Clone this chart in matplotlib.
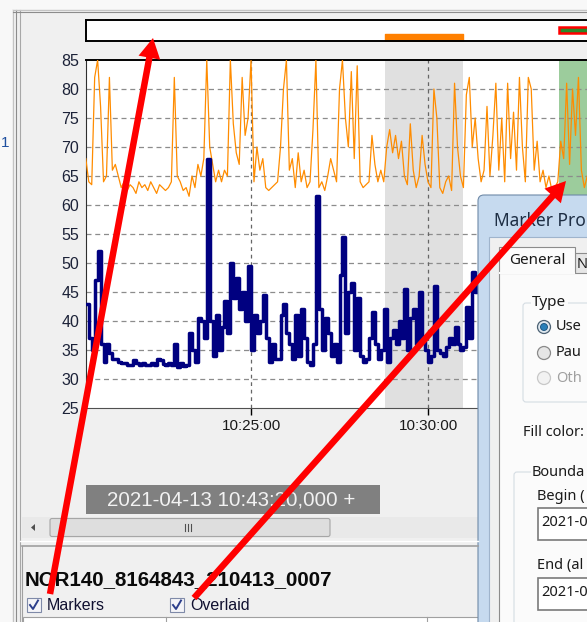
import numpy as np
import matplotlib
matplotlib.use("Agg")
import matplotlib.pyplot as plt
from matplotlib.patches import Rectangle, FancyBboxPatch, Circle, FancyArrow, Polygon

plt.rcParams['font.family'] = ['Liberation Sans', 'DejaVu Sans']

# time axis = seconds after 10:20:00, one sample every 5 s
t_start = 20
t_step = 5

orange_vals = [
    68, 64, 63.5, 82, 85, 77, 64, 65, 82, 66,
    67, 65, 63, 64, 62.5, 63.5, 63, 62, 64, 63,
    63.5, 62.5, 64, 63, 62, 63.5, 63, 62.5, 63, 64,
    82, 65, 64, 62.5, 63, 61.5, 65, 63, 67, 65,
    68, 85, 70, 67, 64, 66, 64, 66, 65, 85,
    74, 69, 67, 82, 72, 75, 85, 64, 70, 66,
    68, 63, 62.5, 63, 63.5, 64, 70, 80, 85, 66,
    68, 63, 69, 64, 66, 63, 64, 73, 85, 63,
    64, 62.5, 65, 68, 66, 64, 80, 85, 75, 70,
    83, 68, 84, 64, 63, 63.5, 64, 72, 67, 64,
    66, 64, 70, 73, 69, 72, 68, 71, 65, 63.5,
    74, 66, 63, 65, 72, 67, 64, 63, 80, 75,
    63, 62, 64, 65, 62.5, 81, 70, 65, 63, 79,
    82, 70, 75, 68, 64, 66, 77, 65, 72, 81,
    66, 75, 64, 81, 68, 76, 66, 82, 70, 64,
    82, 80, 66, 71, 64, 66, 63, 65, 62.5, 63,
    64, 71, 68, 81, 67, 80, 72, 82, 66, 63, 65,
]

blue_vals = [
    43, 37, 35, 47, 52, 36, 33, 36, 34.5, 33.5,
    33.5, 33, 32.8, 32.7, 32.5, 32.5, 33.3, 32.7, 32.5, 32.8,
    32.5, 32.4, 32.8, 32.5, 33.5, 33.2, 32.6, 32.5, 32.7, 32.5,
    36, 32, 32.8, 32.2, 32.5, 38, 35, 33, 40.5, 40,
    37, 68, 40, 34, 41, 35, 39, 43.5, 38, 50,
    44, 47.5, 42, 45, 40, 49.5, 35, 41, 38, 40,
    44.5, 37, 33, 36, 33.5, 33.5, 41, 43, 38, 36,
    33.5, 41, 34, 42, 37, 33, 32.5, 36, 61.5, 42,
    35, 40.5, 38, 34, 36, 33, 48, 54.5, 38, 45,
    46.5, 35, 44, 34, 33, 33.5, 37, 41.5, 36, 33.5,
    35, 42, 33, 37, 38.5, 36, 40, 37, 45.5, 35,
    40.5, 42, 36, 45, 37, 35, 33, 34, 46, 35,
    34.5, 34, 35.5, 37, 36, 39, 36, 35, 35.5, 42.5,
    37, 48.5, 45, 47,
]

y_ticks = [25, 30, 35, 40, 45, 50, 55, 60, 65, 70, 75, 80, 85]
x_ticks = [300, 600]
x_labels = ["10:25:00", "10:30:00"]

# markers: (begin, end) in seconds after 10:20:00
marker_grey = (527, 659)
marker_green = (822, 900)

t_orange = t_start + t_step * np.arange(len(orange_vals))
t_blue = t_start + t_step * np.arange(len(blue_vals))

W, H = 587, 622
fig = plt.figure(figsize=(W / 100, H / 100), dpi=100, facecolor='#f0f0f0')


def box(x0, y0, x1, y1):
    # pixel box (top-left origin) -> figure fraction rect
    return [x0 / W, 1 - y1 / H, (x1 - x0) / W, (y1 - y0) / H]


# ---- main chart
ax = fig.add_axes(box(86, 60, 587, 408))
ax.set_facecolor('white')
ax.axvspan(*marker_grey, color='#e0e0e0', lw=0, zorder=0)
ax.axvspan(*marker_green, color='#9ccc9c', lw=0, zorder=0)
for y in y_ticks[1:-1]:
    ax.axhline(y, color='#8c8c8c', lw=0.9, ls=(0, (4, 3)), zorder=1)
for x in x_ticks:
    ax.axvline(x, color='#666666', lw=0.9, ls=(0, (3, 3)), zorder=1)
ax.plot(t_orange, orange_vals, color='#ff8c00', lw=0.9, zorder=3)
ax.plot(t_blue, blue_vals, color='#000080', lw=2.5, drawstyle='steps-post', zorder=4)
ax.set_xlim(20.3, 869.5)
ax.set_ylim(25, 85)
ax.set_yticks(y_ticks)
ax.set_xticks(x_ticks, x_labels)
ax.tick_params(axis='y', length=0, pad=5, labelsize=11.5, labelcolor='#1c2238')
ax.tick_params(axis='x', length=5, width=1, pad=3, labelsize=11, labelcolor='#1a1a1a')
ax.spines['right'].set_visible(False)
ax.spines['top'].set_linewidth(1.4)
ax.spines['left'].set_color('#303030')
ax.spines['bottom'].set_color('#505050')

# ---- marker strip above the chart
ax_top = fig.add_axes(box(86, 20, 587, 41), sharex=ax)
ax_top.set_ylim(0, 1)
ax_top.broken_barh([(marker_grey[0], marker_grey[1] - marker_grey[0])], (0, 0.33), color='#ff8000')
ax_top.add_patch(Rectangle((marker_green[0], 0.38), 100, 0.3, fc='#2a8a2a', ec='#ff0000', lw=1.8))
ax_top.tick_params(left=False, bottom=False, labelleft=False, labelbottom=False)
for s in ax_top.spines.values():
    s.set_linewidth(1.4)
ax_top.spines['right'].set_visible(False)

# ---- window chrome drawn in pixel space
ov = fig.add_axes([0, 0, 1, 1], zorder=5)
ov.set_xlim(0, W)
ov.set_ylim(H, 0)
ov.axis('off')
ov.patch.set_alpha(0)

ov.add_patch(Rectangle((0, 0), 12, H, fc='#f8f8f8', ec='none'))
ov.add_patch(Rectangle((0, 0), W, 9, fc='#f8f8f8', ec='none'))
for x, c in [(13, '#c4c4c4'), (16, '#8c8c8c'), (20, '#a8a8a8')]:
    ov.plot([x, x], [10, H], color=c, lw=0.8)
for y, c in [(10, '#c4c4c4'), (12, '#8c8c8c')]:
    ov.plot([13, W], [y, y], color=c, lw=0.8)
ov.text(9, 143, "1", color='#1f4f9f', fontsize=11, ha='right', va='center')

# timestamp box
ov.add_patch(Rectangle((86, 485), 294, 29, fc='#808080', ec='none'))
ov.text(107, 500, "2021-04-13 10:43:20,000 +", color='#f2f2f2', fontsize=14.8, va='center')

# scrollbar
ov.add_patch(Rectangle((22, 517), 456, 21, fc='#e9e9e9', ec='none'))
ov.add_patch(FancyBboxPatch((50, 518.5), 280, 18, boxstyle='round,pad=0,rounding_size=2',
                            fc='#dedede', ec='#a6a6a6', lw=0.8))
for gx in (185, 188, 191):
    ov.plot([gx, gx], [524, 531], color='#505050', lw=0.8)
ov.add_patch(Polygon([[31, 527.5], [35, 524], [35, 531]], closed=True, fc='#505050', ec='none'))

ov.plot([20, 478], [541, 541], color='#ffffff', lw=1)
ov.plot([22, 478], [546, 546], color='#a0a0a0', lw=1.2)
ov.plot([22, 22], [546, H], color='#a0a0a0', lw=0.8)

ov.text(25, 580, "NOR140_8164843_210413_0007", fontsize=14.8, fontweight='bold',
        color='#0a0a0a', va='center')

for bx, label in [(27, "Markers"), (170, "Overlaid")]:
    ov.add_patch(Rectangle((bx, 598), 14, 14, fc='#f4f4f8', ec='#7f8aa8', lw=0.8))
    ov.plot([bx + 3, bx + 6, bx + 11], [605, 609, 600.5], color='#2c3e8c', lw=1.4)
    ov.text(bx + 20, 605, label, fontsize=11.5, color='#101030', va='center')

ov.add_patch(Rectangle((23, 617), 455, 10, fc='white', ec='#a0a0a0', lw=0.8))
for vx in (166, 427):
    ov.plot([vx, vx], [617, H], color='#a0a0a0', lw=0.8)

# ---- dialog window (cut by the right edge of the screenshot)
dfont = ['Noto Sans', 'DejaVu Sans']
ov.add_patch(FancyBboxPatch((478, 195), 140, 460, boxstyle='round,pad=0,rounding_size=6',
                            fc='#c6daef', ec='#6f8aa8', lw=0.8))
ov.text(494, 221, "Marker Pro", fontsize=12.5, color='#1e2e44', va='center', family=dfont)
ov.add_patch(Rectangle((489, 237), 120, 420, fc='#f0f0f0', ec='#9fb4cc', lw=0.8))
ov.add_patch(Rectangle((499, 272), 110, 380, fc='#fbfbfb', ec='#8c8c8c', lw=0.8))
ov.add_patch(Rectangle((575, 253), 30, 20, fc='#e6e6e6', ec='#8c8c8c', lw=0.8))
ov.text(577, 264, "N", fontsize=10.5, va='center', family=dfont, color='#1a1a1a')
ov.add_patch(Rectangle((499, 247), 76, 26, fc='#fbfbfb', ec='#8c8c8c', lw=0.8))
ov.plot([500, 574], [273, 273], color='#fbfbfb', lw=1.5)
ov.text(509, 261, "General", fontsize=11, va='center', family=dfont, color='#1a1a1a')

ov.add_patch(FancyBboxPatch((523, 303), 90, 99, boxstyle='round,pad=0,rounding_size=3',
                            fc='none', ec='#d5dde3', lw=0.8))
ov.text(532, 302, "Type", fontsize=11, va='center', family=dfont, color='#1a1a1a',
        bbox=dict(fc='#fbfbfb', ec='none', pad=1))
radios = [("Use", 327, 'sel'), ("Pau", 353, 'on'), ("Oth", 378, 'off')]
for label, ry, state in radios:
    if state == 'sel':
        ov.add_patch(Circle((544, ry), 6.5, fc='#dfe8ef', ec='#4d6274', lw=0.9))
        ov.add_patch(Circle((544, ry), 3.5, fc='#2a7fb8', ec='#1a4f78', lw=0.6))
        col = '#1a1a1a'
    elif state == 'on':
        ov.add_patch(Circle((544, ry), 6.5, fc='#e6e6e6', ec='#8a8a8a', lw=0.9))
        col = '#1a1a1a'
    else:
        ov.add_patch(Circle((544, ry), 6.5, fc='#f2f2f2', ec='#c8c8c8', lw=0.9))
        col = '#a0a0a0'
    ov.text(556, ry, label, fontsize=10.5, va='center', family=dfont, color=col)

ov.text(523, 433, "Fill color:", fontsize=10.5, va='center', family=dfont, color='#1a1a1a')

ov.add_patch(FancyBboxPatch((514, 472), 100, 200, boxstyle='round,pad=0,rounding_size=3',
                            fc='none', ec='#d5dde3', lw=0.8))
ov.text(532, 472, "Bounda", fontsize=10.5, va='center', family=dfont, color='#1a1a1a',
        bbox=dict(fc='#fbfbfb', ec='none', pad=1))
for ly, label, by in [(496, "Begin (", 508), (566, "End (al", 578)]:
    ov.text(537, ly, label, fontsize=10.5, va='center', family=dfont, color='#1a1a1a')
    ov.add_patch(Rectangle((538, by), 70, 32, fc='white', ec='#7a7a7a', lw=1.2))
    ov.text(541, by + 15, "2021-0", fontsize=10.5, va='center', family=dfont, color='#1a1a1a')

# ---- red arrows
ov.add_patch(FancyArrow(50, 594, 153 - 50, 38 - 594, width=6.5, head_width=22, head_length=20,
                        length_includes_head=True, fc='#ff0000', ec='none', zorder=20))
ov.add_patch(FancyArrow(194, 598, 566 - 194, 181 - 598, width=6.5, head_width=22, head_length=20,
                        length_includes_head=True, fc='#ff0000', ec='none', zorder=20))

fig.savefig('out.png', dpi=100, facecolor=fig.get_facecolor())
